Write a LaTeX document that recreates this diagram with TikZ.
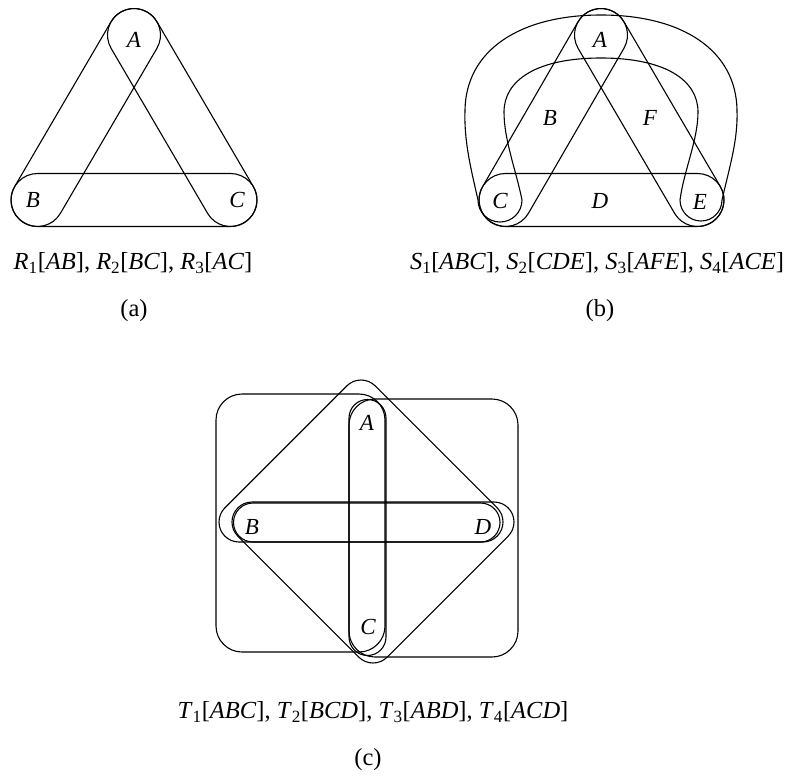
\documentclass[tikz,border=0pt]{standalone}
\usepackage{fontspec}
\setmainfont{Liberation Serif}
\usetikzlibrary{calc}
\tikzset{
  shapeline/.style={line width=1.1pt, line join=round},
  lbl/.style={font=\fontsize{23}{27}\selectfont\itshape, inner sep=0pt},
  captxt/.style={font=\fontsize{24.5}{29}\selectfont, inner sep=0pt},
}
% stadium (hull of two equal circles): [opts]{P}{Q}{r}
\newcommand\stad[4][]{\draw[shapeline,#1] let \p1=($(#3)-(#2)$), \n1={atan2(-(\y1),\x1)}, \n2={\n1+90}, \n3={\n1-90} in
  ($(#2)+(\n2:#4)$) -- ($(#3)+(\n2:#4)$) arc[start angle=\n2, delta angle=-180, radius=#4]
  -- ($(#2)+(\n3:#4)$) arc[start angle=\n3, delta angle=-180, radius=#4] -- cycle;}
\newcommand\itx[1]{\textit{#1}}
\begin{document}
\begin{tikzpicture}[x=1pt,y=-1pt]
\useasboundingbox (0,0) rectangle (790,780);
% ---------- panel (a)
\coordinate (aA) at (134,35);
\coordinate (aB) at (37.5,200);
\coordinate (aC) at (230.5,200);
\stad{aA}{aB}{26.5}
\stad{aB}{aC}{26.5}
\stad{aA}{aC}{26.5}
\node[lbl] (la) at (134,40) {A};
\node[lbl] (lb) at (33,200) {B};
\node[lbl] (lc) at (237,200) {C};
\node[captxt] (capa) at (133,263) {\itx{R}\textsubscript{1}[\itx{AB}], \itx{R}\textsubscript{2}[\itx{BC}], \itx{R}\textsubscript{3}[\itx{AC}]};
\node[captxt] (tagA) at (134,311) {(a)};
% ---------- panel (b)
\coordinate (bA) at (601,35);
\coordinate (bC) at (505.5,200);
\coordinate (bE) at (697.5,200);
\stad{bA}{bC}{26.5}
\stad{bC}{bE}{26.5}
\stad{bA}{bE}{26.5}
% S4 [ACE]
\draw[shapeline] (478,200) .. controls (470,165) and (464,140) .. (465,110)
  .. controls (466,50) and (520,15) .. (601,15)
  .. controls (682,15) and (736,50) .. (737,110)
  .. controls (738,140) and (730,165) .. (722,200)
  arc[start angle=0, end angle=180, radius=21]
  .. controls (684,170) and (698,140) .. (698,112)
  .. controls (698,80) and (665,58) .. (601,58)
  .. controls (537,58) and (504,80) .. (504,112)
  .. controls (504,140) and (516,170) .. (522,200)
  arc[start angle=0, end angle=180, radius=22]
  -- cycle;
\node[lbl] (lbA) at (600,40) {A};
\node[lbl] (lbB) at (550,118) {B};
\node[lbl] (lbF) at (650,118) {F};
\node[lbl] (lbC) at (500,201) {C};
\node[lbl] (lbD) at (600,201) {D};
\node[lbl] (lbE) at (700,202) {E};
\node[captxt] (capb) at (597,263) {\itx{S}\textsubscript{1}[\itx{ABC}], \itx{S}\textsubscript{2}[\itx{CDE}], \itx{S}\textsubscript{3}[\itx{AFE}], \itx{S}\textsubscript{4}[\itx{ACE}]};
\node[captxt] (tagB) at (600,311) {(b)};
% ---------- panel (c)
\draw[shapeline, rounded corners=26pt] (216,394) rectangle (385,652);
\draw[shapeline, rounded corners=26pt] (349,399) rectangle (518,657);
\coordinate (cA) at (367.5,418);
\coordinate (cC) at (367.5,637);
\coordinate (cB) at (253,522.5);
\coordinate (cD) at (480.5,522.5);
\stad{cA}{cC}{18.5}
\stad{cB}{cD}{19.5}
% T3 [ABD]
\coordinate (t3a) at (361,400);
\coordinate (t3b) at (239,522);
\coordinate (t3d) at (483,522);
\draw[shapeline] ($(t3b)+(225:20)$) -- ($(t3a)+(225:20)$) arc[start angle=225, end angle=315, radius=20]
  -- ($(t3d)+(315:20)$) arc[start angle=315, end angle=450, radius=20]
  -- ($(t3b)+(90:20)$) arc[start angle=90, end angle=225, radius=20] -- cycle;
% T2 [BCD]
\coordinate (t2b) at (252,522);
\coordinate (t2c) at (373,643);
\coordinate (t2d) at (494,522);
\draw[shapeline] ($(t2b)+(270:20)$) -- ($(t2d)+(270:20)$) arc[start angle=270, end angle=405, radius=20]
  -- ($(t2c)+(45:20)$) arc[start angle=45, end angle=135, radius=20]
  -- ($(t2b)+(135:20)$) arc[start angle=135, end angle=270, radius=20] -- cycle;
\node[lbl] (lcA) at (367,423) {A};
\node[lbl] (lcB) at (252,527) {B};
\node[lbl] (lcD) at (483,527) {D};
\node[lbl] (lcC) at (368,627) {C};
\node[captxt] (capc) at (373,712) {\itx{T}\textsubscript{1}[\itx{ABC}], \itx{T}\textsubscript{2}[\itx{BCD}], \itx{T}\textsubscript{3}[\itx{ABD}], \itx{T}\textsubscript{4}[\itx{ACD}]};
\node[captxt] (tagC) at (368,760) {(c)};
\end{tikzpicture}
\end{document}
